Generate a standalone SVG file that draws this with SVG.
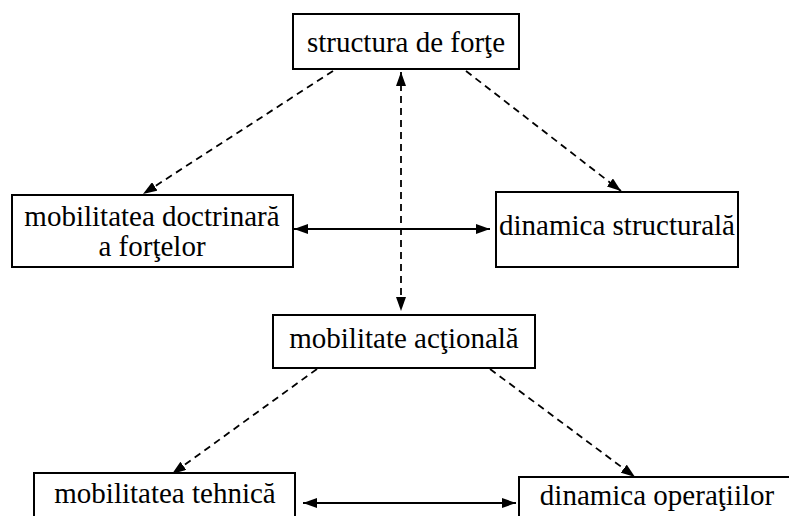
<svg xmlns="http://www.w3.org/2000/svg" width="789" height="516" viewBox="0 0 789 516">
<defs>
<marker id="ah" viewBox="0 0 14 10" refX="14" refY="5" markerWidth="14" markerHeight="10" markerUnits="userSpaceOnUse" orient="auto-start-reverse">
<path d="M0,0 L14,5 L0,10 Z" fill="#000"/>
</marker>
<style>
.box{fill:#fff;stroke:#000;stroke-width:2}
.t{font-family:"Liberation Serif","Times New Roman",serif;font-size:29px;fill:#000;text-anchor:middle}
.c{stroke:#000;stroke-width:1.8;fill:none}
.d{stroke-dasharray:7,5}
</style>
</defs>
<rect width="789" height="516" fill="#fff"/>
<g id="connectors">
<line class="c d" x1="333" y1="71" x2="143" y2="194" marker-end="url(#ah)"/>
<line class="c d" x1="466" y1="71" x2="621" y2="191" marker-end="url(#ah)"/>
<line class="c d" x1="401" y1="72" x2="401" y2="311" marker-start="url(#ah)" marker-end="url(#ah)"/>
<line class="c" x1="294" y1="229" x2="490" y2="229" marker-start="url(#ah)" marker-end="url(#ah)"/>
<line class="c d" x1="317" y1="369" x2="172" y2="474" marker-end="url(#ah)"/>
<line class="c d" x1="490" y1="369" x2="635" y2="477" marker-end="url(#ah)"/>
<line class="c" x1="303" y1="503" x2="516" y2="503" marker-start="url(#ah)" marker-end="url(#ah)"/>
</g>
<g id="n1">
<rect class="box" x="293" y="14" width="226" height="55"/>
<text class="t" x="406" y="52">structura de forţe</text>
</g>
<g id="n2">
<rect class="box" x="12" y="195" width="281" height="72"/>
<text class="t" x="152" y="226">mobilitatea doctrinară</text>
<text class="t" x="152" y="256">a forţelor</text>
</g>
<g id="n3">
<rect class="box" x="496" y="192" width="242" height="75"/>
<text class="t" x="617" y="235">dinamica structurală</text>
</g>
<g id="n4">
<rect class="box" x="273" y="315" width="262" height="53"/>
<text class="t" x="404" y="348">mobilitate acţională</text>
</g>
<g id="n5">
<rect class="box" x="34" y="473" width="261" height="60"/>
<text class="t" x="165" y="503">mobilitatea tehnică</text>
</g>
<g id="n6">
<rect class="box" x="519" y="477" width="290" height="60"/>
<text class="t" x="657" y="505">dinamica operaţiilor</text>
</g>
</svg>
